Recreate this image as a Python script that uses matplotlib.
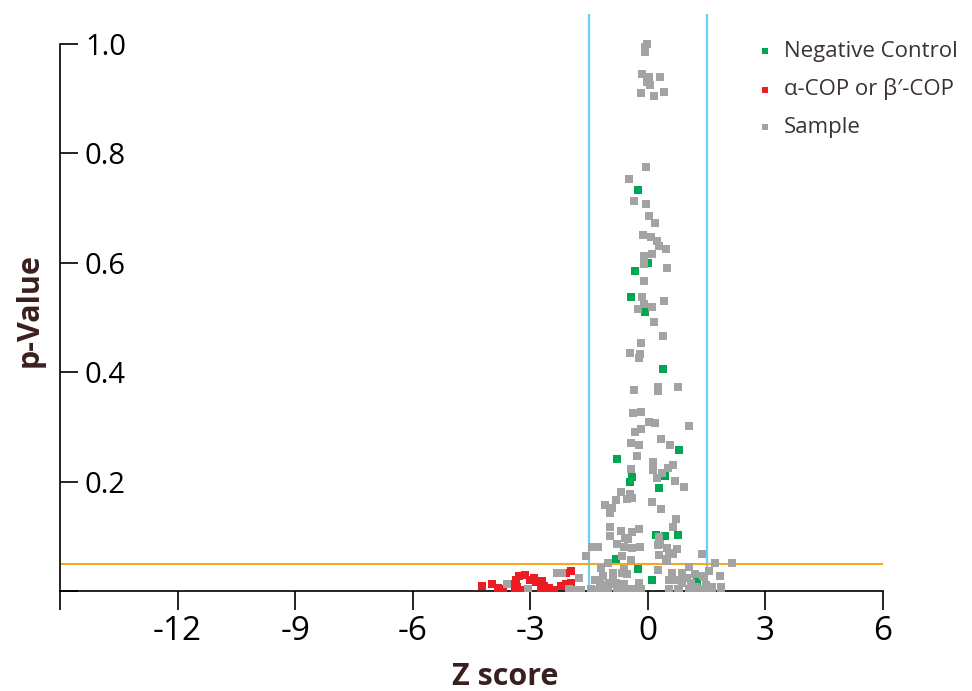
import matplotlib
matplotlib.use("Agg")
import matplotlib.pyplot as plt

# Z score / p-value of each well
neg_z = [-0.25, 0.00, -0.33, -0.43, -0.08, 0.38, 0.79, -0.79, 0.43, -0.41, -0.46, 0.28,
         0.20, 0.43, 0.76, -0.81, -0.25, 0.10, 1.25]
neg_p = [0.733, 0.600, 0.585, 0.537, 0.510, 0.406, 0.258, 0.241, 0.210, 0.208, 0.199, 0.188,
         0.102, 0.100, 0.102, 0.058, 0.040, 0.020, 0.017]

cop_z = [-4.23, -3.97, -3.82, -3.69, -3.49, -3.36, -3.28, -3.13, -3.39, -3.24, -3.13, -3.33,
         -2.90, -2.85, -2.70, -2.72, -2.70, -2.52, -2.39, -2.21, -2.09, -1.96, -1.96, -2.09,
         -1.96, -2.65, -3.75, -3.00]
cop_p = [0.009, 0.013, 0.006, 0.002, 0.013, 0.020, 0.027, 0.029, 0.002, 0.002, 0.002, 0.007,
         0.024, 0.016, 0.018, 0.006, 0.001, 0.006, 0.002, 0.009, 0.013, 0.015, 0.037, 0.033,
         0.001, 0.009, 0.004, 0.020]

smp_z = [-0.03, -0.08, -0.08, -0.15, 0.03, -0.03, 0.05, 0.31, -0.18, 0.15, 0.41,
         -0.05, -0.48, -0.36, -0.05, 0.03,
         0.18, -0.13, 0.08, 0.23, 0.28, 0.46, 0.10, -0.10, -0.10, 0.48, -0.10, -0.15, -0.10,
         -0.25, 0.10, 0.41, 0.15, 0.38, -0.18, -0.46, -0.20, -0.23, -0.36, 0.25, 0.25, 0.76,
         -0.38, -0.18, 0.03, 0.18, 1.04, -0.33, -0.18, -0.43, -0.23, 0.33, 0.56, -0.28, 0.13,
         0.13, -0.43, 0.51, 0.64, 0.36, 0.23, 0.69, 0.92, -0.69, -0.46, -0.81, -0.53, -0.41,
         0.10, -1.09,
         -0.92, 0.33, -0.97, 0.71, 0.64, -0.97, -0.69, -0.23, -0.41, -0.97, -0.59, -0.51, 0.28,
         -1.43, -1.27, -0.79, -0.61, -0.41, -0.20, 0.25, 0.48, 0.31, 0.74, 0.64, 0.53, 0.28,
         0.46, -1.58, -0.66, -0.43, 1.38, 0.48, -1.02, 1.71, 2.14,
         -1.20, -1.76, -0.53, -0.66, -0.89, -1.15, 0.25, 0.61, 0.87, 1.20, 0.99, 1.04, 1.55,
         1.83, 1.40, -1.22, -1.35, -0.99, -0.81, -0.61, 0.53, 0.71, 0.87, 1.09, 1.22, 1.48,
         1.63, 1.86, 0.66, 0.87, 1.42, -1.17, -0.89, -0.84, -0.23, -0.61,
         -1.45, -1.22, -1.02, -0.79, -0.59, -0.38, 0.53, 0.76, 1.04, 1.25, 1.48, -2.00, 0.79,
         1.09, 1.30, 1.63, 1.86, -0.18,
         -3.59, -3.06, -2.32, -2.20, -1.71, -1.83, -1.35]
smp_p = [1.000, 0.995, 0.985, 0.945, 0.940, 0.930, 0.925, 0.940, 0.910, 0.905, 0.912,
         0.775, 0.753, 0.713, 0.707, 0.686,
         0.673, 0.651, 0.647, 0.640, 0.631, 0.625, 0.616, 0.612, 0.598, 0.590, 0.567, 0.537,
         0.525, 0.516, 0.519, 0.530, 0.492, 0.466, 0.453, 0.435, 0.433, 0.426, 0.367, 0.373,
         0.366, 0.373,
         0.325, 0.327, 0.309, 0.307, 0.302, 0.291, 0.296, 0.271, 0.267, 0.278, 0.267, 0.247,
         0.236, 0.221, 0.223, 0.225, 0.230, 0.216, 0.207, 0.201, 0.190, 0.181, 0.177, 0.166,
         0.168, 0.170, 0.163, 0.157,
         0.152, 0.150, 0.143, 0.132, 0.117, 0.117, 0.110, 0.113, 0.108, 0.100, 0.097, 0.095,
         0.099, 0.080, 0.080, 0.086, 0.080, 0.079, 0.080, 0.084, 0.079, 0.086, 0.077, 0.068,
         0.069, 0.066, 0.058, 0.064, 0.064, 0.057, 0.068, 0.055, 0.051, 0.051, 0.051,
         0.042, 0.024, 0.031, 0.033, 0.033, 0.027, 0.038, 0.033, 0.033, 0.031, 0.024, 0.044,
         0.037, 0.027, 0.027, 0.013, 0.020, 0.015, 0.015, 0.013, 0.020, 0.020, 0.015, 0.015,
         0.007, 0.011, 0.007, 0.007, 0.020, 0.025, 0.025, 0.011, 0.029, 0.013, 0.015, 0.040,
         0.003, 0.003, 0.003, 0.003, 0.003, 0.003, 0.003, 0.003, 0.003, 0.003, 0.003, 0.003,
         0.003, 0.003, 0.003, 0.003, 0.003, 0.003,
         0.013, 0.003, 0.033, 0.033, 0.002, 0.002, 0.002]

z_cut = 1.5
p_cut = 0.05
x_ticks = [-15, -12, -9, -6, -3, 0, 3, 6]
x_labels = ["", "-12", "-9", "-6", "-3", "0", "3", "6"]
y_ticks = [0, 0.2, 0.4, 0.6, 0.8, 1.0]
y_labels = ["", "0.2", "0.4", "0.6", "0.8", "1.0"]

plt.rcParams["font.family"] = ["Open Sans", "DejaVu Sans"]
brown = "#3a1f1f"

fig = plt.figure(figsize=(9.72, 6.91), dpi=100)
ax = fig.add_axes([60 / 972, 100 / 691, 823 / 972, 577 / 691])

ax.scatter(neg_z, neg_p, s=38, marker="s", color="#00a651", linewidths=0, label="Negative Control", zorder=3)
ax.scatter(cop_z, cop_p, s=38, marker="s", color="#ed1c24", linewidths=0, label="α-COP or β′-COP", zorder=3)
ax.scatter(smp_z, smp_p, s=38, marker="s", color="#a3a3a3", linewidths=0, label="Sample", zorder=3)

ax.axvline(-z_cut, color="#6dcff6", lw=1.6, zorder=2)
ax.axvline(z_cut, color="#6dcff6", lw=1.6, zorder=2)
ax.axhline(p_cut, color="#f5a623", lw=1.5, zorder=2)

ax.set_xlim(-15, 6)
ax.set_ylim(0, 1.055)
for s in ["top", "right"]:
    ax.spines[s].set_visible(False)
ax.spines["left"].set_bounds(0, 1.0)
ax.spines["bottom"].set_bounds(-15, 6)
ax.spines["left"].set_linewidth(1.2)
ax.spines["bottom"].set_linewidth(1.2)

ax.set_xticks(x_ticks)
ax.set_xticklabels(x_labels, fontsize=24)
ax.tick_params(axis="x", direction="out", length=14, width=1.2, pad=3)

ax.set_yticks(y_ticks)
ax.set_yticklabels(y_labels, fontsize=21, ha="left")
ax.tick_params(axis="y", direction="in", length=13, width=1.2, pad=-18)

fig.text(30 / 972, 1 - 310 / 691, "p-Value", rotation=90, ha="center", va="center",
         fontsize=22, fontweight="bold", color=brown)
fig.text(505 / 972, 1 - 677 / 691, "Z score", ha="center", va="center",
         fontsize=22, fontweight="bold", color=brown)

ax.legend(loc="upper left", bbox_to_anchor=(756 / 972, 1 - 41 / 691), bbox_transform=fig.transFigure,
          frameon=False, fontsize=16, labelcolor="#3a3233", handlelength=0.8, handletextpad=0.45,
          labelspacing=0.74, markerscale=0.75, borderaxespad=0, borderpad=0)

fig.savefig("out.png", dpi=100)
